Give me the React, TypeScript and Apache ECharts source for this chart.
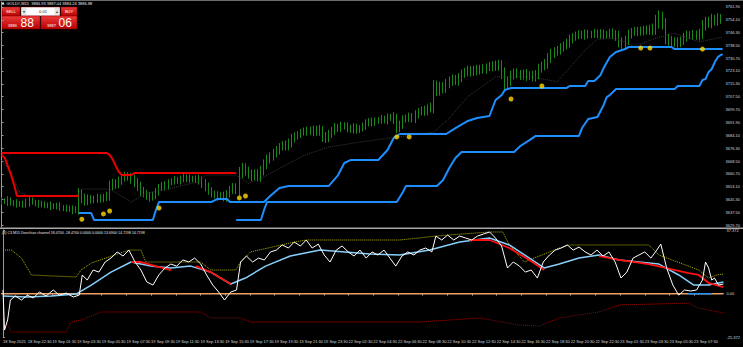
import React, { useEffect, useRef } from "react";
import * as echarts from "echarts";

const timeLabels = [
  "18 Sep 2025", "18 Sep 22:30", "19 Sep 01:30", "19 Sep 03:30", "19 Sep 05:30", "19 Sep 07:30",
  "19 Sep 09:30", "19 Sep 11:30", "19 Sep 13:30", "19 Sep 15:30", "19 Sep 17:30", "19 Sep 19:30",
  "19 Sep 21:30", "19 Sep 23:30", "22 Sep 02:30", "22 Sep 04:30", "22 Sep 06:30", "22 Sep 08:30",
  "22 Sep 10:30", "22 Sep 12:30", "22 Sep 14:30", "22 Sep 16:30", "22 Sep 18:30", "22 Sep 20:30",
  "22 Sep 22:30", "23 Sep 01:30", "23 Sep 03:30", "23 Sep 05:30", "23 Sep 07:30", "23 Sep 09:30",
];
const BAR_COUNT = 234;
const LABEL_EVERY = 8;

const firstOpen = 3644.0;
const closes = [
  3644.5, 3643.8, 3644.6, 3643.2, 3642.5, 3643.1, 3642.0, 3642.6, 3643.4, 3644.8,
  3643.6, 3642.4, 3642.9, 3641.8, 3642.2, 3641.0, 3641.6, 3640.8, 3641.5, 3640.3,
  3639.6, 3640.2, 3639.1, 3638.6, 3639.4, 3648.6, 3646.0, 3644.2, 3645.7, 3644.8,
  3645.5, 3646.3, 3645.2, 3646.8, 3647.4, 3653.6, 3655.0, 3654.1, 3656.8, 3658.5,
  3659.6, 3658.7, 3657.4, 3655.6, 3652.8, 3650.4, 3648.9, 3647.2, 3646.5, 3647.8,
  3649.6, 3652.4, 3653.8, 3653.0, 3655.5, 3656.4, 3657.2, 3656.1, 3657.8, 3658.6,
  3657.5, 3658.2, 3657.0, 3657.9, 3656.6, 3654.7, 3653.0, 3650.5, 3648.6, 3647.8,
  3646.9, 3647.7, 3646.3, 3648.4, 3651.2, 3652.6, 3650.9, 3661.3, 3664.2, 3662.5,
  3660.4, 3659.2, 3661.0, 3658.6, 3662.8, 3666.4, 3669.5, 3671.2, 3673.4, 3674.8,
  3677.0, 3678.4, 3677.5, 3679.6, 3682.1, 3683.5, 3684.6, 3685.8, 3686.9, 3686.2,
  3687.4, 3686.0, 3687.8, 3686.5, 3683.2, 3682.4, 3684.9, 3686.8, 3689.0, 3688.2,
  3690.1, 3689.5, 3688.4, 3687.6, 3688.9, 3687.2, 3688.5, 3689.8, 3691.4, 3692.6,
  3691.8, 3692.9, 3693.5, 3694.1, 3693.2, 3694.8, 3695.2, 3693.9, 3688.6, 3690.4,
  3693.8, 3694.6, 3695.4, 3694.1, 3696.7, 3698.2, 3699.5, 3698.4, 3700.6, 3701.2,
  3713.8, 3711.2, 3713.5, 3712.4, 3715.6, 3716.8, 3718.2, 3717.1, 3719.0, 3721.4,
  3722.6, 3723.5, 3722.2, 3724.1, 3723.0, 3724.8, 3723.9, 3725.2, 3726.4, 3725.6,
  3727.0, 3726.1, 3721.5, 3715.2, 3716.8, 3720.4, 3722.1, 3721.3, 3720.0, 3721.8,
  3719.6, 3720.9, 3719.2, 3721.0, 3724.6, 3726.3, 3727.5, 3730.8, 3733.6, 3734.9,
  3735.8, 3737.2, 3738.6, 3740.1, 3742.3, 3743.6, 3744.8, 3745.4, 3744.6, 3745.8,
  3744.9, 3745.6, 3746.2, 3745.1, 3746.0, 3744.7, 3745.5, 3746.3, 3745.0, 3744.2,
  3740.6, 3739.4, 3741.8, 3745.2, 3746.8, 3747.5, 3746.6, 3748.0, 3747.2, 3748.5,
  3747.6, 3749.0, 3753.2, 3755.4, 3751.8, 3742.6, 3741.4, 3740.2, 3741.0, 3739.8,
  3741.6, 3743.4, 3745.0, 3744.6, 3745.3, 3744.4, 3745.8, 3750.6, 3753.0, 3752.2,
  3754.6, 3753.4, 3755.2, 3754.1,
];
// extra high/low beyond the body, per bar (price units)
const wicks = [
  2.0, 1.4, 2.6, 1.8, 1.5, 2.2, 1.2, 1.9, 2.4, 2.7,
  1.6, 1.3, 2.1, 1.5, 1.9, 1.2, 2.3, 1.4, 1.7, 2.0,
  1.5, 1.9, 1.4, 2.4, 1.7, 3.4, 3.0, 2.8, 2.5, 2.2,
  1.9, 2.4, 2.0, 1.7, 2.6, 3.0, 2.8, 2.5, 2.2, 2.7,
  2.4, 2.1, 2.6, 2.9, 2.5, 3.1, 2.4, 2.2, 2.6, 2.0,
  2.5, 2.2, 1.9, 2.4, 2.0, 1.7, 2.2, 1.5, 1.9, 2.1,
  1.7, 2.2, 1.4, 1.9, 2.4, 2.6, 2.9, 2.5, 2.2, 2.0,
  2.4, 1.9, 2.2, 2.5, 2.0, 2.6, 2.4, 3.6, 3.2, 2.9,
  2.6, 2.9, 2.4, 2.5, 2.8, 3.1, 2.9, 2.6, 2.5, 2.8,
  2.4, 2.2, 2.6, 2.5, 2.9, 2.4, 2.0, 2.2, 1.9, 2.4,
  2.0, 2.5, 2.2, 2.6, 3.1, 2.9, 2.5, 2.4, 2.6, 2.0,
  2.2, 1.9, 2.4, 2.0, 2.5, 2.2, 1.7, 2.0, 2.4, 1.9,
  2.2, 2.0, 1.7, 2.4, 1.9, 2.5, 2.0, 2.9, 3.3, 2.6,
  2.4, 2.0, 2.5, 2.2, 2.6, 2.4, 2.0, 2.5, 2.2, 2.6,
  3.8, 3.4, 3.0, 2.9, 2.6, 3.0, 2.8, 2.5, 2.9, 2.6,
  2.4, 2.8, 2.5, 2.2, 2.6, 2.0, 2.4, 2.5, 2.2, 2.6,
  2.4, 2.9, 3.4, 3.8, 3.0, 2.8, 2.5, 2.6, 2.4, 2.2,
  2.5, 2.0, 2.4, 2.6, 2.9, 2.5, 2.8, 3.1, 2.9, 2.6,
  2.5, 2.8, 2.4, 2.6, 2.9, 2.5, 2.2, 2.4, 2.0, 2.5,
  2.2, 1.9, 2.4, 2.0, 2.5, 2.2, 1.9, 2.4, 2.6, 2.9,
  3.2, 2.9, 2.6, 2.9, 2.5, 2.2, 2.4, 2.0, 2.5, 2.2,
  2.6, 2.9, 4.0, 4.4, 3.6, 3.4, 3.0, 2.9, 2.5, 2.6,
  2.4, 2.8, 2.5, 2.2, 2.6, 2.4, 2.9, 3.4, 3.0, 2.9,
  3.2, 2.6, 2.9, 2.4,
];

const priceTicks = [
  3761.9, 3754.1, 3746.3, 3738.5, 3730.7, 3723.1, 3715.3, 3707.5, 3699.7,
  3691.9, 3684.1, 3676.3, 3668.5, 3660.7, 3653.1, 3645.3, 3637.5, 3629.7,
];
const oscTicks = [37.372, 0, -25.372];
const oscTickLabels = ["37.372", "0.00", "-25.372"];

// main-window indicator lines: [bar index, price]
const redUpper = [[0, 3673.4], [34, 3673.4], [35, 3672.2], [36, 3669.5], [37, 3665.5], [38, 3661.8], [39, 3660.0], [42, 3660.0], [43, 3661.2], [76, 3661.2]];
const redLower = [[0, 3672.2], [1, 3670.5], [2, 3665.5], [3, 3660.5], [4, 3654.5], [5, 3647.3], [25, 3647.3]];
const blueFast = [
  [25, 3637.0], [29, 3637.0], [30, 3632.7], [49, 3632.7], [50, 3638.8], [51, 3643.7], [68, 3643.7], [70, 3645.5],
  [73, 3645.5], [74, 3643.7], [85, 3643.7], [87, 3647.3], [90, 3652.2], [93, 3653.4], [106, 3653.4], [109, 3660.0],
  [111, 3667.3], [113, 3669.1], [122, 3669.1], [125, 3675.2], [127, 3682.5], [129, 3684.9], [144, 3684.9], [147, 3688.5],
  [151, 3692.8], [154, 3694.6], [158, 3695.8], [160, 3705.5], [162, 3708.5], [163, 3711.6], [165, 3712.8], [183, 3712.8],
  [184, 3714.0], [189, 3714.0], [190, 3717.0], [192, 3717.0], [194, 3720.7], [195, 3724.9], [197, 3731.6], [199, 3734.6],
  [202, 3736.4], [203, 3737.6], [217, 3737.6], [218, 3736.4], [233.5, 3736.4],
];
const blueSlow = [
  [76, 3632.7], [84, 3632.7], [85, 3638.8], [86, 3643.7], [128, 3643.7], [130, 3649.7], [131, 3653.4], [141, 3653.4],
  [143, 3657.0], [145, 3664.3], [147, 3670.3], [149, 3674.0], [166, 3674.0], [168, 3677.6], [171, 3681.2], [173, 3683.7],
  [187, 3683.7], [188, 3688.5], [190, 3694.0], [193, 3695.2], [195, 3702.5], [196, 3707.3], [197, 3708.5], [199, 3712.2],
  [218, 3712.2], [219, 3714.0], [226, 3714.0], [227, 3717.6], [228, 3718.2], [229, 3722.5], [230, 3724.3], [231, 3728.5],
  [232, 3731.6], [233.5, 3733.4],
];
const midDotted = [
  [0, 3669.1], [3, 3661.8], [6, 3649.1], [9, 3647.3], [24, 3647.3], [26, 3651.5], [35, 3651.5], [42, 3643.7],
  [47, 3649], [55, 3652], [64, 3656], [66, 3660], [76, 3660], [80, 3655], [84, 3658], [90, 3664], [98, 3672],
  [106, 3677], [116, 3680], [128, 3683], [140, 3686], [145, 3694.4], [151, 3707.5], [160, 3719.6], [172, 3719.4],
  [180, 3716.6], [189, 3735.8], [193, 3742.3], [199, 3742.9], [205, 3738], [212, 3743], [218, 3746], [226, 3740.7],
  [233.5, 3743.7],
];
const signalDots = [
  [26, 3633.2], [33, 3636.4], [35, 3638.2], [51, 3640.0], [77, 3646.1], [79, 3647.3], [128, 3683.1],
  [132, 3683.1], [165, 3706.1], [175, 3714.0], [207, 3737.0], [210, 3737.0], [227, 3736.4],
];

// sub-window (C3 Donchian channel) lines: [bar index, value]
const oscWhite = [
  [0, 2.2], [0.5, -21.3], [1.5, -15.4], [2.4, -3.7], [4, -1.3], [6, -3.7], [7.9, -0.8], [9.8, -2.5], [11.8, 1.0],
  [14, -1.3], [16.3, 2.2], [18.2, -0.8], [20.5, 0.4], [22.8, -1.9], [24.7, -0.8], [25.7, 11.0], [27.3, 8.0],
  [29.2, 13.9], [31.1, 12.7], [33.1, 18.6], [35, 20.9], [37, 24.5], [38.9, 22.1], [40.8, 25.6], [42.8, 18.6],
  [44.7, 13.9], [46.6, 6.9], [48.6, 5.1], [50.5, 11.0], [52.5, 15.1], [54.4, 17.4], [56.3, 16.2], [58.3, 19.8],
  [60.2, 18.6], [62.1, 20.9], [64.1, 17.4], [66, 11.0], [68, 5.1], [69.9, 1.0], [71.8, -3.7], [73.8, 1.0],
  [75.7, 2.2], [77, 18.6], [78.9, 22.1], [80.9, 18.6], [82.8, 20.9], [84.7, 19.8], [86.7, 24.5], [88.6, 25.6],
  [90.5, 28.6], [92.5, 26.8], [94.4, 30.3], [96.4, 28.0], [98.3, 31.5], [100.2, 26.8], [102.2, 29.1], [104.1, 22.7],
  [106, 18.6], [108, 25.6], [109.9, 28.0], [111.9, 24.5], [113.8, 22.1], [115.7, 25.6], [117.7, 20.9], [119.6, 24.5],
  [121.5, 22.7], [123.5, 25.6], [125.4, 20.9], [127.3, 16.2], [129.3, 22.1], [131.2, 24.5], [133.2, 22.7],
  [135.1, 25.6], [137, 26.8], [139, 24.5], [140.3, 33.8], [142.2, 31.5], [144.1, 34.4], [146.1, 31.5], [148, 33.8],
  [149.9, 32.7], [151.9, 31.5], [153.8, 33.8], [155.7, 35.0], [157.7, 36.2], [159.6, 32.7], [161.6, 28.0],
  [163.5, 15.1], [165.4, 18.6], [167.4, 16.2], [169.3, 12.7], [171.2, 13.9], [173.2, 9.2], [175.1, 18.6],
  [177.1, 22.7], [179, 25.6], [180.9, 26.8], [182.9, 28.6], [184.8, 25.6], [186.7, 27.4], [188.7, 24.5],
  [190.6, 22.7], [192.5, 25.6], [194.5, 22.1], [196.4, 24.5], [198.4, 18.6], [200.3, 9.2], [202.2, 12.7],
  [204.2, 20.9], [206.1, 22.7], [208, 24.5], [210, 20.9], [211.9, 25.6], [213.2, 29.1], [215.1, 15.1], [217.1, 5.1],
  [219, -0.8], [220.9, 2.2], [222.9, 1.6], [224.8, 2.2], [226.7, 8.0], [227.7, 18.6], [228.7, 15.1], [229.7, 8.0],
  [230.6, 9.2], [231.9, 5.1], [233.5, 5.7],
];
const oscSignal = [
  [0, -1.3], [7.6, -1.9], [15.7, -1.3], [23.7, -0.2], [28.6, 5.1], [35, 12.7], [41.5, 18.6], [47.9, 16.2],
  [54.4, 15.1], [60.8, 16.2], [67.3, 12.7], [73.8, 5.7], [78.6, 9.2], [85.1, 16.2], [93.1, 22.1], [102.8, 25.6],
  [110.9, 24.5], [118.9, 23.3], [128.6, 22.7], [138.3, 25.6], [148, 30.3], [157.7, 32.7], [164.1, 28.6],
  [170.6, 20.9], [175.4, 15.1], [180.3, 17.4], [186.7, 20.9], [193.2, 22.7], [199.7, 19.8], [206.1, 18.6],
  [212.6, 17.4], [219, 11.0], [223.9, 5.1], [228.7, 5.1], [233.5, 6.9],
];
const oscRed = [
  [41.5, 18.6], [44.7, 18.6], [49.5, 16.2], [54.4, 13.9], null,
  [62.5, 16.2], [67.3, 12.7], [73.8, 5.7], null,
  [151.2, 31.5], [157.7, 31.5], [164.1, 26.8], [170.6, 19.8], [175.4, 13.9], null,
  [193.2, 22.1], [199.7, 19.8], [209.3, 17.4], [222.2, 12.1], [225.5, 11.0], [228.7, 6.3], [233.5, 3.9],
];
const bandUpper = [
  [0, 25.6], [2.7, 25.6], [6, 20.9], [9.2, 11.0], [23.7, 9.8], [25.3, 13.9], [28.6, 18.0], [40.8, 25.6],
  [44.7, 25.6], [46.3, 18.6], [64.1, 18.6], [67.3, 13.9], [75.4, 13.9], [77, 18.6], [80.2, 24.5], [94.4, 30.3],
  [98.3, 31.5], [128.6, 31.5], [140.3, 33.8], [144.1, 34.4], [157.7, 36.2], [162, 36.2], [164.1, 28.6],
  [169, 18.6], [180.3, 26.8], [183.5, 28.6], [209.3, 28.6], [212.6, 22.7], [225.5, 13.9], [228.7, 9.2],
  [231.3, 11.0], [233.5, 11.6],
];
const bandLower = [
  [0, -12.5], [2.7, -22.5], [20.5, -22.5], [22.1, -16.6], [25.3, -15.4], [31.8, -10.7], [64.1, -10.7],
  [67.3, -14.2], [77, -14.2], [80.2, -16.6], [135.1, -16.6], [154.5, -14.2], [167.4, -18.4], [173.8, -18.9],
  [180.3, -14.2], [193.2, -10.7], [199.7, -6.6], [222.2, -5.5], [225.5, -8.4], [233.5, -11.3],
];
const zeroOrange = [[-0.5, 0], [233.5, 0]];
const zeroBlue = [[222, 0], [229.7, 0]];

const FONT = "Liberation Sans, Arial, sans-serif";
const AXIS_GRAY = "#9a9a9a";
const LABEL_COLOR = "#d8d8d8";
const BAR_GREEN = "#178a17";

export default function App() {
  const ref = useRef<HTMLDivElement>(null);

  useEffect(() => {
    document.body.style.margin = "0";
    document.body.style.background = "#000";
    if (!ref.current) return;
    const chart = echarts.init(ref.current, null, { renderer: "svg" });

    const categories = Array.from({ length: BAR_COUNT }, (_, i) =>
      i % LABEL_EVERY === 0 ? timeLabels[i / LABEL_EVERY] ?? "" : ""
    );
    const ohlc = closes.map((c, i) => {
      const o = i === 0 ? firstOpen : closes[i - 1];
      return [o, c, Math.min(o, c) - wicks[i], Math.max(o, c) + wicks[i]];
    });

    const redGrad = new echarts.graphic.LinearGradient(0, 0, 0, 1, [
      { offset: 0, color: "#ee3a3a" },
      { offset: 1, color: "#b80000" },
    ]);

    const line = (
      name: string, xi: number, yi: number, data: any[], color: string, width: number, type: any = "solid", z = 3
    ) => ({
      name, type: "line", xAxisIndex: xi, yAxisIndex: yi, data, symbol: "none", z,
      lineStyle: { color, width, type }, silent: true, connectNulls: false,
    });

    chart.setOption({
      animation: false,
      backgroundColor: "#000000",
      grid: [
        { left: 0, right: 18, top: 2, height: 225 },
        { left: 0, right: 18, top: 230, height: 107 },
      ],
      xAxis: [
        { type: "category", gridIndex: 0, data: categories, show: false },
        { type: "value", gridIndex: 0, min: -0.5, max: BAR_COUNT - 0.5, show: false },
        {
          type: "category", gridIndex: 1, data: categories, boundaryGap: true,
          axisLine: { show: true, lineStyle: { color: AXIS_GRAY, width: 1 } },
          axisTick: { show: true, alignWithLabel: true, length: 2, interval: (i: number) => i % LABEL_EVERY === 0, lineStyle: { color: AXIS_GRAY } },
          axisLabel: {
            interval: (i: number) => i % LABEL_EVERY === 0, color: LABEL_COLOR, fontSize: 4, fontFamily: FONT,
            align: "left", margin: 2, showMaxLabel: false,
          },
          splitLine: { show: false },
        },
        { type: "value", gridIndex: 1, min: -0.5, max: BAR_COUNT - 0.5, show: false },
      ],
      yAxis: [
        {
          type: "value", gridIndex: 0, position: "right", min: 3628.49, max: 3764.93, scale: true,
          axisLine: { show: true, lineStyle: { color: AXIS_GRAY, width: 1 } },
          axisTick: { show: true, length: 2, customValues: priceTicks, lineStyle: { color: AXIS_GRAY } },
          axisLabel: {
            customValues: priceTicks, formatter: (v: number) => v.toFixed(2),
            color: LABEL_COLOR, fontSize: 4, fontFamily: FONT, margin: 3,
          },
          splitLine: { show: false },
        },
        {
          type: "value", gridIndex: 1, position: "right", min: -25.372, max: 37.372,
          axisLine: { show: true, lineStyle: { color: AXIS_GRAY, width: 1 } },
          axisTick: { show: true, length: 2, customValues: oscTicks, lineStyle: { color: AXIS_GRAY } },
          axisLabel: {
            customValues: oscTicks,
            formatter: (v: number) => oscTickLabels[oscTicks.findIndex((t) => Math.abs(t - v) < 1e-6)] ?? "",
            color: LABEL_COLOR, fontSize: 4, fontFamily: FONT, margin: 3,
          },
          splitLine: { show: false },
        },
      ],
      series: [
        {
          name: "GOLD#", type: "candlestick", xAxisIndex: 0, yAxisIndex: 0, data: ohlc, barWidth: 1, z: 2,
          itemStyle: { color: BAR_GREEN, color0: BAR_GREEN, borderColor: BAR_GREEN, borderColor0: BAR_GREEN, borderWidth: 1 },
          silent: true,
        },
        line("mid", 1, 0, midDotted, "#383838", 1, "dotted", 3),
        line("redUpper", 1, 0, redUpper, "#e80000", 2, "solid", 4),
        line("redLower", 1, 0, redLower, "#e80000", 2, "solid", 4),
        line("blueFast", 1, 0, blueFast, "#1e8fff", 2, "solid", 4),
        line("blueSlow", 1, 0, blueSlow, "#1e8fff", 2, "solid", 4),
        {
          name: "signals", type: "scatter", xAxisIndex: 1, yAxisIndex: 0, data: signalDots, symbolSize: 5, z: 6,
          itemStyle: { color: "#ffd700" }, silent: true,
        },
        line("zero", 3, 1, zeroOrange, "#f0a060", 1.5, "solid", 2),
        line("zeroBlue", 3, 1, zeroBlue, "#1e8fff", 1.5, "solid", 3),
        line("upper", 3, 1, bandUpper, "#b5b500", 1, "dotted", 3),
        line("lower", 3, 1, bandLower, "#9a0000", 1, "dotted", 3),
        line("signal", 3, 1, oscSignal, "#87cefa", 1.5, "solid", 4),
        line("signalRed", 3, 1, oscRed, "#ff1010", 1.8, "solid", 5),
        line("osc", 3, 1, oscWhite, "#ffffff", 1, "solid", 6),
      ],
      graphic: [
        { type: "rect", shape: { x: 0, y: 0, width: 743, height: 1 }, style: { fill: "#6a6a6a" }, silent: true },
        { type: "rect", shape: { x: 0, y: 227.5, width: 743, height: 1.5 }, style: { fill: "#a8a8a8" }, silent: true },
        { type: "polygon", shape: { points: [[1.5, 4.5], [4.5, 4.5], [3, 1.8]] }, style: { fill: "#ffffff" }, silent: true },
        {
          type: "text", x: 6.5, y: 1.3,
          style: { text: "GOLD#,M15  3884.93 3887.04 3884.24 3886.88", fill: "#e8e8e8", fontSize: 4, fontFamily: FONT },
          silent: true,
        },
        // one-click trading panel
        { type: "rect", shape: { x: 2, y: 7, width: 18, height: 9 }, style: { fill: redGrad, stroke: "#8a0000", lineWidth: 0.5 }, silent: true },
        { type: "text", x: 11, y: 11.5, style: { text: "SELL", fill: "#fff", fontSize: 4, fontFamily: FONT, align: "center", verticalAlign: "middle" }, silent: true },
        { type: "rect", shape: { x: 21, y: 7, width: 39, height: 9 }, style: { fill: "#ffffff", stroke: "#8a0000", lineWidth: 0.5 }, silent: true },
        { type: "rect", shape: { x: 22, y: 8, width: 4.5, height: 7 }, style: { fill: "#e4e4e4" }, silent: true },
        { type: "rect", shape: { x: 54.5, y: 8, width: 4.5, height: 7 }, style: { fill: "#e4e4e4" }, silent: true },
        { type: "text", x: 24.2, y: 11.5, style: { text: "▾", fill: "#333", fontSize: 4, fontFamily: FONT, align: "center", verticalAlign: "middle" }, silent: true },
        { type: "text", x: 56.8, y: 11.5, style: { text: "▴", fill: "#333", fontSize: 4, fontFamily: FONT, align: "center", verticalAlign: "middle" }, silent: true },
        { type: "text", x: 43, y: 11.5, style: { text: "0.01", fill: "#111", fontSize: 4, fontFamily: FONT, align: "center", verticalAlign: "middle" }, silent: true },
        { type: "rect", shape: { x: 61, y: 7, width: 16, height: 9 }, style: { fill: redGrad, stroke: "#8a0000", lineWidth: 0.5 }, silent: true },
        { type: "text", x: 69, y: 11.5, style: { text: "BUY", fill: "#fff", fontSize: 4, fontFamily: FONT, align: "center", verticalAlign: "middle" }, silent: true },
        { type: "rect", shape: { x: 2, y: 16, width: 38, height: 13 }, style: { fill: redGrad, stroke: "#8a0000", lineWidth: 0.5 }, silent: true },
        { type: "rect", shape: { x: 41, y: 16, width: 36, height: 13 }, style: { fill: redGrad, stroke: "#8a0000", lineWidth: 0.5 }, silent: true },
        { type: "text", x: 8, y: 25, style: { text: "3886", fill: "#fff", fontSize: 4, fontFamily: FONT, verticalAlign: "middle" }, silent: true },
        { type: "text", x: 20.5, y: 23, style: { text: "88", fill: "#fff", fontSize: 12, fontFamily: FONT, verticalAlign: "middle" }, silent: true },
        { type: "text", x: 47, y: 25, style: { text: "3887", fill: "#fff", fontSize: 4, fontFamily: FONT, verticalAlign: "middle" }, silent: true },
        { type: "text", x: 58.5, y: 23, style: { text: "06", fill: "#fff", fontSize: 12, fontFamily: FONT, verticalAlign: "middle" }, silent: true },
        {
          type: "text", x: 2, y: 230.5,
          style: {
            text: "(4) C3 M15 Donchian channel 18.4700 -18.4700 0.0000 0.0000 13.6900 14.7198 14.7198",
            fill: "#e8e8e8", fontSize: 3.6, fontFamily: FONT,
          },
          silent: true,
        },
      ],
    });

    return () => chart.dispose();
  }, []);

  return <div ref={ref} style={{ width: 743, height: 347, background: "#000" }} />;
}
